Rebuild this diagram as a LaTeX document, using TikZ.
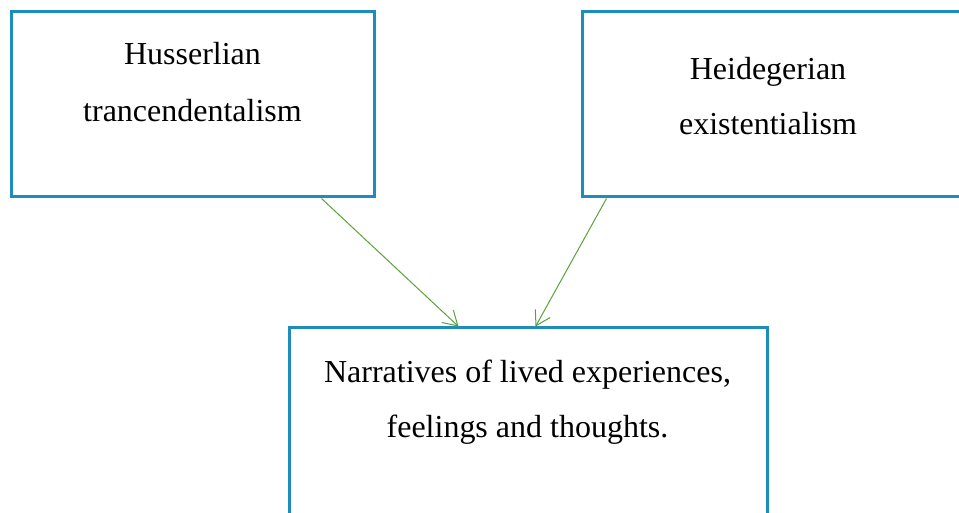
\documentclass[tikz,border=0pt]{standalone}
\usepackage{fontspec}
\setmainfont{Liberation Serif}
\usetikzlibrary{arrows.meta}
\definecolor{boxblue}{HTML}{1F8DBB}
\definecolor{arrgreen}{HTML}{5AA33C}
\tikzset{
  box/.style={draw=boxblue, line width=3pt, rectangle, inner sep=0pt, fill=none},
  lbl/.style={anchor=base, inner sep=0pt, font=\fontsize{32}{38}\selectfont},
  arr/.style={draw=arrgreen, line width=1pt, -{Straight Barb[length=14pt,width=17pt]}}
}
\begin{document}
\begin{tikzpicture}[x=1pt,y=1pt]
\useasboundingbox (0,0) rectangle (959,512);
\clip (0,0) rectangle (959,512);
\fill[white] (0,0) rectangle (959,512);
\node[box, minimum width=363pt, minimum height=185pt] (h) at (192.5,407.5) {};
\node[box, minimum width=398pt, minimum height=185pt] (e) at (781,407.5) {};
\node[box, minimum width=478pt, minimum height=202pt] (n) at (528,83) {};
\node[lbl] (h1) at (192.5,447) {Husserlian};
\node[lbl] (h2) at (192.5,390) {trancendentalism};
\node[lbl] (e1) at (768,432) {Heidegerian};
\node[lbl] (e2) at (768,377) {existentialism};
\node[lbl] (n1) at (527.5,130) {Narratives of lived experiences,};
\node[lbl] (n2) at (527.5,75) {feelings and thoughts.};
\draw[arr] ([xshift=312pt]h.south west) -- ([xshift=171pt]n.north west);
\draw[arr] ([xshift=26pt]e.south west) -- ([xshift=248pt]n.north west);
\end{tikzpicture}
\end{document}
